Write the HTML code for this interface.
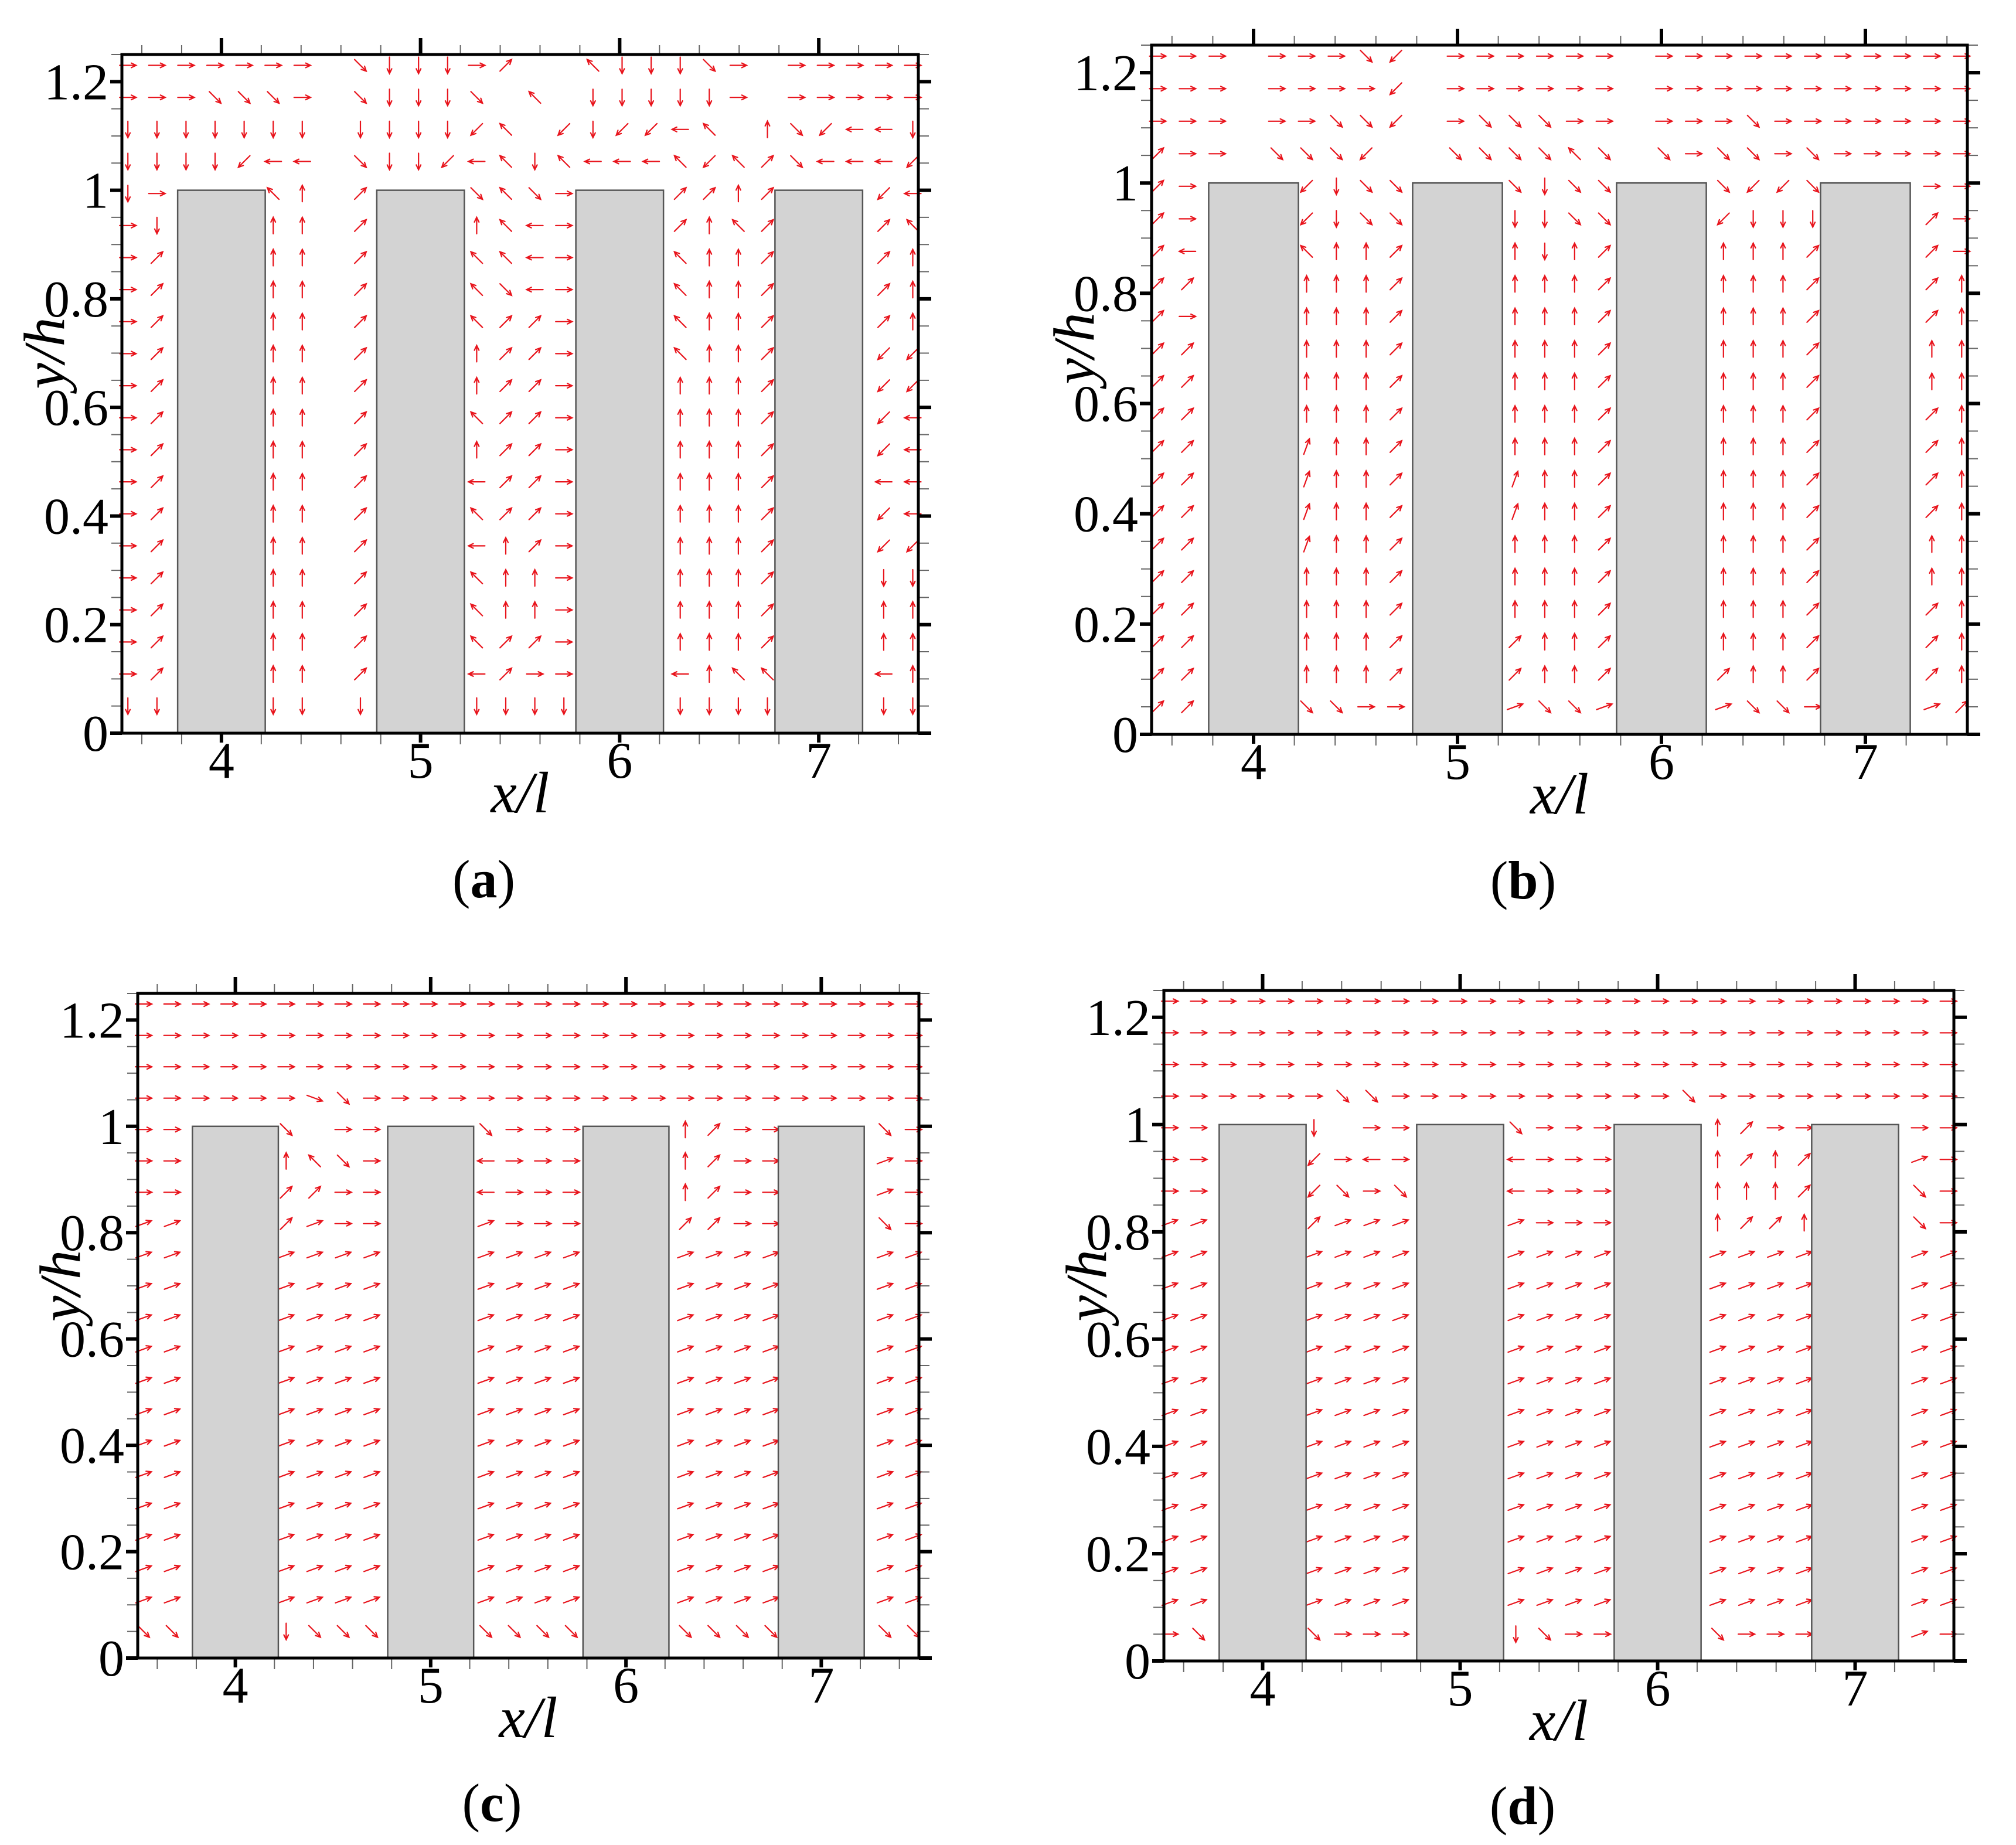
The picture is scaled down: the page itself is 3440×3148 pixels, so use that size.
<!DOCTYPE html>
<html><head><meta charset="utf-8"><style>
html,body{margin:0;padding:0;background:#fff}
svg{display:block}
text{font-family:"Liberation Serif",serif;fill:#000}
</style></head><body>
<svg id="fig" xmlns="http://www.w3.org/2000/svg" width="3440" height="3148" viewBox="0 0 3440 3148"></svg>
<script>
// ---- data ----
const xTicks = [4,5,6,7];
const xTickLabels = ["4","5","6","7"];
const yTicks = [0,0.2,0.4,0.6,0.8,1.0,1.2];
const yTickLabels = ["0","0.2","0.4","0.6","0.8","1","1.2"];
const blockCenters = [4,5,6,7];
const blockHalfWidth = [0.22];
const blockHeight = [1.0];
const gridX0 = [3.53];
const gridDX = [0.146];
const gridY0 = [1.23];
const gridDY = [0.059];
// direction codes: E 0deg, e 20, f -20, a 45, d -45, n 70, N 90, b 135, W 180, c 225, S 270, '.' none
const fieldA = [
"EEEEEEE.dSSSEa..bSSSdE.EEEEE",
"EEEdddE.dSSSd.b.SSSSSE.EEEEE",
"SSSSSSS.SSSScb.cSccWb.NdcWWS",
"SSSScWW.dSScWbSbWWWbcbadWWWc",
"SE...bN.a...dbdE...aaNa...cW",
"ES...NN.a...NbWE...aNba...ab",
"Ea...NN.a...bbWE...bNNa...aN",
"Ea...NN.a...bdWE...bNNa...aN",
"Ea...NN.a...baaE...bNNa...aN",
"Ea...NN.a...NaaE...bNNa...cc",
"Ea...NN.a...NaaE...NNNa...cc",
"Ea...NN.a...baaE...NNNa...cW",
"Ea...NN.a...NaaE...NNNa...cW",
"Ea...NN.a...WaaE...NNNa...WW",
"Ea...NN.a...baaE...NNNa...cW",
"Ea...NN.a...WNaE...NNNa...cc",
"Ea...NN.a...bNNE...NNNa...SS",
"Ea...NN.a...bNNE...NNNa...NN",
"Ea...NN.a...baaE...NNNa...NN",
"Ea...NN.a...WaEE...WNbb...WN",
"SS...SS.S...SSSS...SSSS...SS"];
const fieldB = [
"EEE.EEEdc.EEEEEE.EEEEEEEEEEE",
"EEE.EEEEc.EEEEEE.EEEEEEEEEEE",
"EEE.EEddc.EdddEE.EEEdEEEEEEE",
"aEE.dddc..ddddbd.dEddEdEEEEE",
"aE...cSdd...dSdd...dccd...EE",
"aE...cSdd...SSdd...cSSS...aE",
"aW...bNNa...NSNa...NNNa...aE",
"aa...NNNa...NNNa...NNNa...aN",
"aE...NNNa...NNNa...NNNa...aN",
"aa...NNNa...NNNa...NNNa...NN",
"aa...NNNa...NNNa...NNNa...NN",
"aa...NNNa...NNNa...NNNa...aN",
"aa...nNNa...NNNa...NNNa...aN",
"aa...nNNa...nNNa...NNNa...aN",
"aa...nNNa...nNNa...NNNa...aN",
"aa...nNNa...NNNa...NNNa...NN",
"aa...NNNa...NNNa...NNNa...NN",
"aa...NNNa...NNNa...NNNa...aN",
"aa...NNNa...aNNa...NNNa...aN",
"aa...NNNa...aNNa...aNNa...aN",
"aa...ddEE...edde...eddE...ea"];
const fieldC = [
"EEEEEEEEEEEEEEEEEEEEEEEEEEEE",
"EEEEEEEEEEEEEEEEEEEEEEEEEEEE",
"EEEEEEEEEEEEEEEEEEEEEEEEEEEE",
"EEEEEEfdEEEEEEEEEEEEEEEEEEEE",
"EE...d.EE...dEEE...NaEE...dE",
"EE...NbdE...WEEE...NaEE...eE",
"EE...aaEE...WEEE...NaEE...eE",
"ee...aeEE...eEEE...aaEE...dE",
"ee...eeee...eeee...eeee...ee",
"ee...eeee...eeee...eeee...ee",
"ee...eeee...eeee...eeee...ee",
"ee...eeee...eeee...eeee...ee",
"ee...eeee...eeee...eeee...ee",
"ee...eeee...eeee...eeee...ee",
"ee...eeee...eeee...eeee...ee",
"ee...eeee...eeee...eeee...ee",
"ee...eeee...eeee...eeee...ee",
"ee...eeee...eeee...eeee...ee",
"ee...eeee...eeee...eeee...ee",
"ee...eeee...eeee...eeee...ee",
"dd...Sddd...dddd...dddd...dd"];
const fieldD = [
"EEEEEEEEEEEEEEEEEEEEEEEEEEEE",
"EEEEEEEEEEEEEEEEEEEEEEEEEEEE",
"EEEEEEEEEEEEEEEEEEEEEEEEEEEE",
"EEEEEEddEEEEEEEEEEdEEEEEEEEE",
"EE...S.EE...dEEE...NaEE...EE",
"EE...cEWE...WEEE...NaNa...eE",
"EE...cdEd...WEEE...NNNa...dE",
"ee...aeee...eEEE...NaaN...dE",
"ee...eeee...eeee...eeee...ee",
"ee...eeee...eeee...eeee...ee",
"ee...eeee...eeee...eeee...ee",
"ee...eeee...eeee...eeee...ee",
"ee...eeee...eeee...eeee...ee",
"ee...eeee...eeee...eeee...ee",
"ee...eeee...eeee...eeee...ee",
"ee...eeee...eeee...eeee...ee",
"ee...eeee...eeee...eeee...ee",
"ee...eeee...eeee...eeee...ee",
"ee...eeee...eeee...eeee...ee",
"ee...eeee...eeee...eeee...ee",
"Ed...dEEE...SdEE...dEEE...eE"];
const panelLetters = ["a","b","c","d"];

// ---- layout (pixels, not data) ----
const panels = [
 {L:208, T:93,  R:1567, B:1251, field:fieldA, capOff:280},
 {L:1965,T:77,  R:3357, B:1253, field:fieldB, capOff:280},
 {L:235, T:1695,R:1568, B:2829, field:fieldC, capOff:278},
 {L:1986,T:1690,R:3334, B:2834, field:fieldD, capOff:278}
];
const angleMap = {E:0,e:20,f:-20,a:45,d:-45,n:70,N:90,b:135,W:180,c:225,S:270};
const NS = "http://www.w3.org/2000/svg";
const svg = document.getElementById('fig');
function mk(tag, attrs, parent){
  const el = document.createElementNS(NS, tag);
  for (const k in attrs) el.setAttribute(k, attrs[k]);
  (parent||svg).appendChild(el);
  return el;
}
panels.forEach((p, pi) => {
  const g = mk('g', {});
  
  
  const xs = v => p.L + (v - 3.5) / 4.0 * (p.R - p.L);
  const ys = v => p.B - v / 1.25 * (p.B - p.T);

  // arrows
  const ag = mk('g', {stroke:'#e8141c', 'stroke-width':2.2, fill:'none', 'stroke-linecap':'round'}, g);
  
  
  p.field.forEach((row, j) => {
    const yv = gridY0[0] - gridDY[0] * j;
    for (let k = 0; k < row.length; k++) {
      const ch = row[k];
      if (!(ch in angleMap)) continue;
      const xv = gridX0[0] + gridDX[0] * k;
      const th = angleMap[ch] * Math.PI / 180;
      const cx = xs(xv), cy = ys(yv);
      const Lh = 14;
      const dx = Math.cos(th) * Lh, dy = -Math.sin(th) * Lh;
      const x1 = cx - dx, y1 = cy - dy, x2 = cx + dx, y2 = cy + dy;
      const hl = 9, ha = 0.45;
      const bx = -Math.cos(th), by = Math.sin(th);
      const h1x = x2 + hl * (bx * Math.cos(ha) - by * Math.sin(ha));
      const h1y = y2 + hl * (bx * Math.sin(ha) + by * Math.cos(ha));
      const h2x = x2 + hl * (bx * Math.cos(-ha) - by * Math.sin(-ha));
      const h2y = y2 + hl * (bx * Math.sin(-ha) + by * Math.cos(-ha));
      const a = mk('path', {d:`M${x1.toFixed(1)},${y1.toFixed(1)}L${x2.toFixed(1)},${y2.toFixed(1)}M${h1x.toFixed(1)},${h1y.toFixed(1)}L${x2.toFixed(1)},${y2.toFixed(1)}L${h2x.toFixed(1)},${h2y.toFixed(1)}`}, ag);
      
      
    }
  });

  // blocks
  blockCenters.forEach((c, bi) => {
    const r = mk('rect', {x:xs(c - blockHalfWidth[0]), y:ys(blockHeight[0]), width:xs(c + blockHalfWidth[0]) - xs(c - blockHalfWidth[0]), height:p.B - ys(blockHeight[0]), fill:'#d3d3d3', stroke:'#555', 'stroke-width':2.5}, g);
    
    
  });

  // ticks
  const tg = mk('g', {stroke:'#000'}, g);
  
  
  for (let i = 0; i <= 20; i++) {
    const v = 3.5 + 0.2 * i + 0.1;
    if (v > 7.5) break;
    const x = xs(v);
    const major = xTicks.some(t => Math.abs(t - v) < 1e-6);
    if (major) {
      mk('line', {x1:x, y1:p.B, x2:x, y2:p.B + 16, 'stroke-width':6}, tg);
      mk('line', {x1:x, y1:p.T, x2:x, y2:p.T - 28, 'stroke-width':6}, tg);
    } else {
      mk('line', {x1:x, y1:p.B, x2:x, y2:p.B + 19, 'stroke-width':2, stroke:'#666'}, tg);
      mk('line', {x1:x, y1:p.T, x2:x, y2:p.T - 16, 'stroke-width':2, stroke:'#666'}, tg);
    }
  }
  for (let i = 0; i <= 25; i++) {
    const v = 0.05 * i;
    const y = ys(v);
    const major = i % 4 === 0;
    mk('line', {x1:p.L, y1:y, x2:p.L - (major ? 20 : 18), y2:y, 'stroke-width':major ? 6 : 2, stroke:major ? '#000' : '#666'}, tg);
    mk('line', {x1:p.R, y1:y, x2:p.R + (major ? 22 : 18), y2:y, 'stroke-width':major ? 6 : 2, stroke:major ? '#000' : '#666'}, tg);
  }

  // frame
  const fr = mk('rect', {x:p.L, y:p.T, width:p.R - p.L, height:p.B - p.T, fill:'none', stroke:'#000', 'stroke-width':5}, g);
  
  

  // tick labels
  xTicks.forEach((t, i) => {
    const tx = mk('text', {x:xs(t), y:p.B + 76, 'font-size':88, 'text-anchor':'middle'}, g);
    tx.textContent = xTickLabels[i];
    
    
  });
  yTicks.forEach((t, i) => {
    const tx = mk('text', {x:p.L - 23, y:ys(t) + 30, 'font-size':88, 'text-anchor':'end'}, g);
    tx.textContent = yTickLabels[i];
    
    
  });

  // axis titles
  const cxp = (p.L + p.R) / 2;
  const xt = mk('text', {x:cxp, y:p.B + 135, 'font-size':100, 'font-style':'italic', 'text-anchor':'middle'}, g);
  xt.textContent = 'x/l';
  
  
  const yx = p.L - 132, yy = ys(0.7);
  const yt = mk('text', {x:yx, y:yy, 'font-size':100, 'font-style':'italic', 'text-anchor':'middle', 'dominant-baseline':'central', transform:`rotate(-90 ${yx} ${yy})`}, g);
  yt.textContent = 'y/h';
  
  

  // caption
  const cap = mk('text', {x:cxp - 62, y:p.B + p.capOff, 'font-size':92, 'text-anchor':'middle'}, g);
  cap.appendChild(document.createTextNode('('));
  const bt = mk('tspan', {'font-weight':'bold'}, cap);
  bt.textContent = panelLetters[pi];
  cap.appendChild(document.createTextNode(')'));
  
  
});
</script>
</body></html>
